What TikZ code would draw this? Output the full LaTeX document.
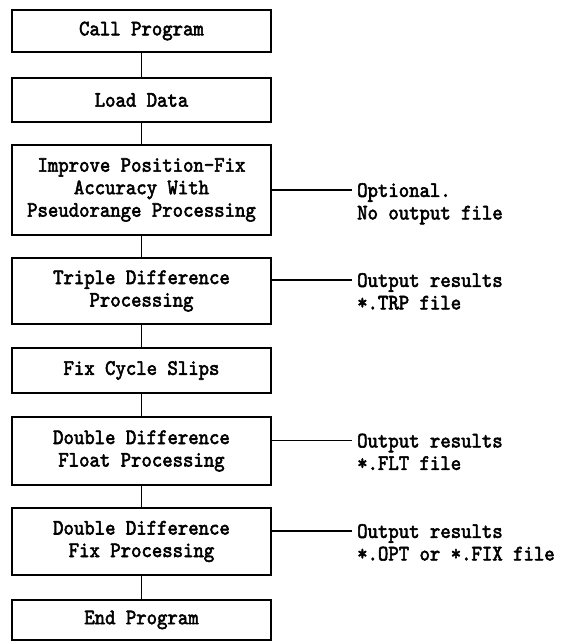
\documentclass[tikz,border=0pt]{standalone}
\usepackage{fontspec}
\newfontfamily\typew{lmmono10-regular}[Extension=.otf,FakeBold=2.5,FakeStretch=0.9]
\begin{document}
\begin{tikzpicture}[x=1pt,y=-1pt,
  txt/.style={font=\typew\fontsize{22}{22.5}\selectfont},
  box/.style={txt, draw, line width=1.3pt, minimum width=259pt, inner sep=0pt, align=center},
  lbl/.style={txt, inner sep=0pt, align=left, anchor=north west},
  link/.style={line width=1.3pt}]
\useasboundingbox (0,0) rectangle (561,642);
\fill[white] (0,0) rectangle (561,642);
% main flow boxes
\node[box, minimum height=42pt] (call)    at (141.5,31)    {Call Program};
\node[box, minimum height=44pt] (load)    at (141.5,100)   {Load Data};
\node[box, minimum height=90pt] (improve) at (141.5,190)   {Improve Position-Fix\\Accuracy With\\Pseudorange Processing};
\node[box, minimum height=66pt] (triple)  at (141.5,291)   {Triple Difference\\Processing};
\node[box, minimum height=45pt] (slips)   at (141.5,370.5) {Fix Cycle Slips};
\node[box, minimum height=68pt] (float)   at (141.5,451)   {Double Difference\\Float Processing};
\node[box, minimum height=67pt] (fixp)    at (141.5,541.5) {Double Difference\\Fix Processing};
\node[box, minimum height=40pt] (endp)    at (141.5,620)   {End Program};
% vertical connectors
\draw[link] (call) -- (load);
\draw[link] (load) -- (improve);
\draw[link] (improve) -- (triple);
\draw[link] (triple) -- (slips);
\draw[link] (slips) -- (float);
\draw[link] (float) -- (fixp);
\draw[link] (fixp) -- (endp);
% side connectors and labels
\coordinate (e1) at (352,190);
\coordinate (e2) at (352,280);
\coordinate (e3) at (352,440.5);
\coordinate (e4) at (352,531);
\draw[link] (improve.east |- e1) -- (e1);
\draw[link] (triple.east |- e2) -- (e2);
\draw[link] (float.east |- e3) -- (e3);
\draw[link] (fixp.east |- e4) -- (e4);
\node[lbl] (l1) at (357,183) {Optional.\\No output file};
\node[lbl] (l2) at (357,273) {Output results\\*.TRP file};
\node[lbl] (l3) at (357,433.5) {Output results\\*.FLT file};
\node[lbl] (l4) at (357,524) {Output results\\*.OPT or *.FIX file};
\end{tikzpicture}
\end{document}
